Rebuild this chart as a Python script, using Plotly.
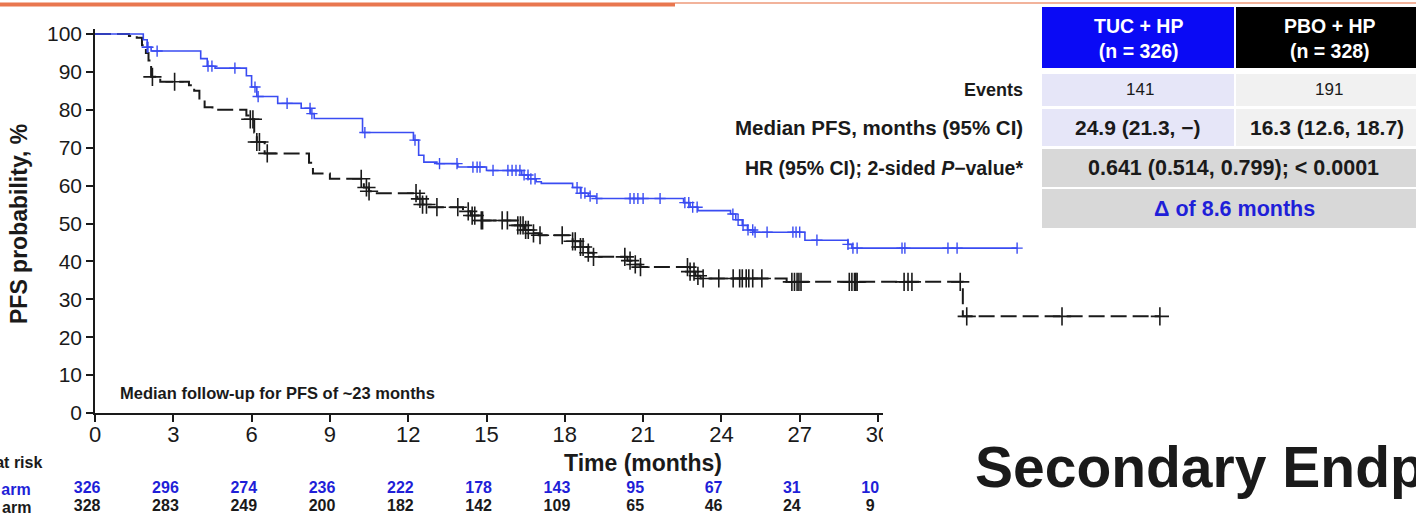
import numpy as np
import plotly.graph_objects as go

# --- data ------------------------------------------------------------------
x_ticks = [0, 3, 6, 9, 12, 15, 18, 21, 24, 27, 30]
y_ticks = [0, 10, 20, 30, 40, 50, 60, 70, 80, 90, 100]

# TUC + HP Kaplan-Meier steps (months, PFS %)
tuc_t = [0, 1.85, 2.0, 2.15, 4.05, 4.3, 4.6, 5.8, 6.0, 6.2, 7.0, 7.9, 8.25, 8.4,
         10.25, 12.2, 12.4, 12.6, 13.1, 13.9, 15.0, 16.35, 16.6, 16.9, 17.1,
         18.3, 18.6, 18.9, 19.2, 22.55, 22.8, 23.1, 24.35, 24.55, 24.8, 25.0,
         25.25, 27.2, 28.85, 29.0, 35.33]
tuc_s = [100, 98.5, 96.5, 95.5, 93.5, 91.5, 91, 89, 86, 83.5, 81.7, 80.4, 79, 77.7,
         74, 72, 68, 66.2, 65.8, 64.9, 64.0, 62.8, 61.8, 61.0, 60.6,
         59.5, 58, 57.2, 56.6, 55.5, 54.3, 53.4, 52.5, 51, 49.5, 48.3,
         47.7, 45.6, 44.5, 43.5, 43.5]
tuc_cens = [2.0, 2.03, 2.38, 4.33, 4.48, 5.36, 6.13, 6.25, 7.36, 8.24, 8.31, 10.34,
            12.26, 13.2, 13.87, 14.48, 14.64, 14.75, 15.25, 15.82, 15.98, 16.13,
            16.28, 16.44, 16.59, 16.7, 16.86, 18.47, 18.62, 18.77, 18.97, 19.23,
            20.5, 20.65, 20.8, 21.0, 21.65, 22.6, 22.75, 22.9, 23.07, 24.44, 24.64,
            24.83, 25.02, 25.2, 25.29, 25.75, 26.74, 26.86, 27.0, 27.66, 28.85,
            29.04, 29.2, 30.92, 31.03, 32.68, 33.03, 35.33]

# PBO + HP Kaplan-Meier steps
pbo_t = [0, 1.3, 1.6, 1.8, 1.95, 2.05, 2.15, 2.5, 3.6, 3.8, 4.0, 4.2, 4.5, 5.8,
         5.95, 6.1, 6.2, 6.5, 8.2, 8.35, 9.0, 10.3, 10.5, 10.7, 12.35, 12.55,
         12.8, 14.1, 14.4, 14.75, 16.2, 16.45, 16.7, 17.0, 18.3, 18.6, 18.9,
         19.1, 20.4, 20.65, 20.9, 22.8, 23.0, 23.2, 26.5, 33.25, 40.8]
pbo_s = [100, 99.5, 99, 97, 95, 93, 88.7, 87.4, 86.5, 85, 82.5, 80.7, 80, 78.5,
         77.5, 74, 71.5, 68.5, 66, 63.2, 61.8, 59.5, 58.5, 58, 56.5, 55,
         54.3, 53.2, 52.1, 50.8, 49.5, 48.3, 47.4, 46.9, 45.3, 43.8, 42.3,
         41.2, 40.2, 39.2, 38.5, 37.3, 36.2, 35.5, 34.6, 25.5, 25.5]
pbo_cens = [2.2, 3.05, 5.95, 6.05, 6.2, 6.3, 6.6, 10.2, 10.4, 10.5, 12.3, 12.45,
            12.55, 12.7, 13.1, 13.9, 14.3, 14.45, 14.55, 14.8, 14.85, 15.6, 15.8,
            16.2, 16.3, 16.4, 16.5, 16.6, 16.8, 17.05, 17.9, 18.3, 18.4, 18.6,
            18.7, 18.9, 19.1, 20.3, 20.5, 20.7, 20.9, 22.7, 22.8, 22.95, 23.1,
            23.3, 23.9, 24.45, 24.7, 24.8, 24.95, 25.05, 25.2, 25.55, 26.7, 26.8,
            26.9, 26.97, 27.05, 28.9, 29.0, 29.1, 29.15, 29.2, 31.0, 31.15, 31.3,
            33.15, 33.4, 37.05, 40.8]

tuc_risk = [326, 296, 274, 236, 222, 178, 143, 95, 67, 31, 10]
pbo_risk = [328, 283, 249, 200, 182, 142, 109, 65, 46, 24, 9]

# --- geometry ----------------------------------------------------------------
W, H = 1416, 516
X0_PX, Y0_PX = 95, 413      # pixel of t=0 and of 0 %
PX_T, PX_P = 26.1, 3.79     # pixels per month / per percent
X_END_PX = 883              # the slide cuts the axis here

BLUE_LINE = "#3a4cf2"
BLUE_TXT = "#1f1fd8"
BLACK = "#1a1a1a"
FONT = "Liberation Sans, Arial, sans-serif"


def px(x):
    return x / W


def py(y):
    return 1 - y / H


def t_at(x):
    return (x - X0_PX) / PX_T


def p_at(y):
    return (Y0_PX - y) / PX_P


def step_at(ts, ss, pts):
    idx = np.searchsorted(np.array(ts), np.array(pts), side="right") - 1
    return [ss[i] for i in idx]


fig = go.Figure()

# dummy trace so the visible axes get drawn
fig.add_trace(go.Scatter(x=[0], y=[0], mode="markers", marker=dict(opacity=0),
                         hoverinfo="skip", showlegend=False))

# curves (full-figure overlay axes so they run past the cut axis)
fig.add_trace(go.Scatter(x=pbo_t, y=pbo_s, mode="lines", xaxis="x2", yaxis="y2",
                         line=dict(color=BLACK, width=2, dash="16px,6px", shape="hv"),
                         showlegend=False, hoverinfo="skip"))
fig.add_trace(go.Scatter(x=pbo_cens, y=step_at(pbo_t, pbo_s, pbo_cens), mode="markers",
                         xaxis="x2", yaxis="y2", showlegend=False, hoverinfo="skip",
                         marker=dict(symbol="cross-thin", size=13,
                                     line=dict(width=1.6, color=BLACK))))
fig.add_trace(go.Scatter(x=tuc_t, y=tuc_s, mode="lines", xaxis="x2", yaxis="y2",
                         line=dict(color=BLUE_LINE, width=1.6, shape="hv"),
                         showlegend=False, hoverinfo="skip"))
fig.add_trace(go.Scatter(x=tuc_cens, y=step_at(tuc_t, tuc_s, tuc_cens), mode="markers",
                         xaxis="x2", yaxis="y2", showlegend=False, hoverinfo="skip",
                         marker=dict(symbol="cross-thin", size=8,
                                     line=dict(width=1.4, color=BLUE_LINE))))

# tick labels and numbers at risk, clipped where the slide is cut
fig.add_trace(go.Scatter(x=x_ticks, y=[p_at(436)] * len(x_ticks), mode="text",
                         text=[str(v) for v in x_ticks], xaxis="x3", yaxis="y3",
                         textfont=dict(family=FONT, size=22, color=BLACK),
                         showlegend=False, hoverinfo="skip"))
fig.add_trace(go.Scatter(x=[t - 0.3 for t in x_ticks], y=[p_at(489)] * len(x_ticks),
                         mode="text", text=[f"<b>{v}</b>" for v in tuc_risk],
                         xaxis="x3", yaxis="y3",
                         textfont=dict(family=FONT, size=16, color=BLUE_TXT),
                         showlegend=False, hoverinfo="skip"))
fig.add_trace(go.Scatter(x=[t - 0.3 for t in x_ticks], y=[p_at(507)] * len(x_ticks),
                         mode="text", text=[f"<b>{v}</b>" for v in pbo_risk],
                         xaxis="x3", yaxis="y3",
                         textfont=dict(family=FONT, size=16, color=BLACK),
                         showlegend=False, hoverinfo="skip"))

# --- table and slide decorations --------------------------------------------
shapes = [
    dict(type="line", xref="paper", yref="paper", x0=0, x1=px(675), y0=py(4.5), y1=py(4.5),
         line=dict(color="#e9774f", width=4)),
    dict(type="line", xref="paper", yref="paper", x0=px(675), x1=1, y0=py(3), y1=py(3),
         line=dict(color="#f2b39b", width=2)),
]
cells = [
    (1042, 1234, 7, 68, "#0a0af5"),
    (1236, 1416, 7, 68, "#000000"),
    (1042, 1234, 74, 106, "#e6e6f8"),
    (1236, 1416, 74, 106, "#f1f1f1"),
    (1042, 1234, 109, 146, "#e6e6f8"),
    (1236, 1416, 109, 146, "#f1f1f1"),
    (1042, 1416, 149, 187, "#d8d8d8"),
    (1042, 1416, 189, 228, "#d8d8d8"),
]
for x0, x1, y0, y1, c in cells:
    shapes.append(dict(type="rect", xref="paper", yref="paper", x0=px(x0), x1=px(x1),
                       y0=py(y1), y1=py(y0), fillcolor=c, line=dict(width=0), layer="below"))


def note(x, y, text, size, color=BLACK, xanchor="center", angle=0, family=FONT):
    return dict(xref="paper", yref="paper", x=px(x), y=py(y), text=text, showarrow=False,
                xanchor=xanchor, yanchor="middle", textangle=angle,
                font=dict(family=family, size=size, color=color))


annotations = [
    note(19, 224, "<b>PFS probability, %</b>", 23, angle=-90),
    note(643, 463, "<b>Time (months)</b>", 23),
    note(118, 393, "<b>Median follow-up for PFS of ~23 months</b>", 16.5, xanchor="left"),
    note(44, 462, "<b>No. at risk</b>", 16, xanchor="right"),
    note(33, 489, "<b>TUC arm</b>", 16, color=BLUE_TXT, xanchor="right"),
    note(33, 507, "<b>PBO arm</b>", 16, xanchor="right"),
    note(1138, 38, "<b>TUC + HP<br>(n = 326)</b>", 19.5, color="white"),
    note(1330, 38, "<b>PBO + HP<br>(n = 328)</b>", 19.5, color="white"),
    note(1025, 90, "<b>Events</b>", 18, xanchor="right"),
    note(1025, 127, "<b>Median PFS, months (95% CI)</b>", 20.5, xanchor="right"),
    note(1025, 168, "<b>HR (95% CI); 2-sided <i>P</i>\u2212value*</b>", 19.5, xanchor="right"),
    note(1140, 90, "141", 17),
    note(1329, 90, "191", 17),
    note(1138, 127, "<b>24.9 (21.3, \u2212)</b>", 21),
    note(1327, 127, "<b>16.3 (12.6, 18.7)</b>", 21),
    note(1233, 168, "<b>0.641 (0.514, 0.799); < 0.0001</b>", 21.5),
    note(1234, 209, "<b>\u0394 of 8.6 months</b>", 21.5, color=BLUE_TXT),
    note(973, 467, "<b>Secondary Endpoints</b>", 57, xanchor="left"),
]

axis_common = dict(showgrid=False, zeroline=False, fixedrange=True, automargin=False)
fig.update_layout(
    width=W, height=H,
    margin=dict(l=0, r=0, t=0, b=0, pad=0, autoexpand=False),
    paper_bgcolor="white", plot_bgcolor="rgba(0,0,0,0)",
    showlegend=False,
    font=dict(family=FONT, color=BLACK),
    xaxis=dict(domain=[px(X0_PX), px(X_END_PX)], range=[0, t_at(X_END_PX)],
               tickvals=x_ticks, showticklabels=False, ticks="outside", ticklen=7,
               tickwidth=1.5, tickcolor=BLACK, showline=True, linecolor=BLACK,
               linewidth=1.5, anchor="y", **axis_common),
    yaxis=dict(domain=[py(Y0_PX), py(29)], range=[0, p_at(29)],
               tickvals=y_ticks, ticks="outside", ticklen=7, tickwidth=1.5,
               tickcolor=BLACK, showline=True, linecolor=BLACK, linewidth=1.5,
               tickfont=dict(family=FONT, size=21, color=BLACK), anchor="x",
               **axis_common),
    xaxis2=dict(domain=[0, 1], range=[t_at(0), t_at(W)], visible=False, anchor="y2",
                **axis_common),
    yaxis2=dict(domain=[0, 1], range=[p_at(H), p_at(0)], visible=False, anchor="x2",
                **axis_common),
    xaxis3=dict(domain=[0, px(X_END_PX)], range=[t_at(0), t_at(X_END_PX)], visible=False,
                anchor="y3", **axis_common),
    yaxis3=dict(domain=[0, 1], range=[p_at(H), p_at(0)], visible=False, anchor="x3",
                **axis_common),
    shapes=shapes,
    annotations=annotations,
)

# the page's default 8px body margin would shift the slide; drop it
fig.write_html("out.html", config={"displayModeBar": False},
               post_script="document.body.style.margin='0';")
